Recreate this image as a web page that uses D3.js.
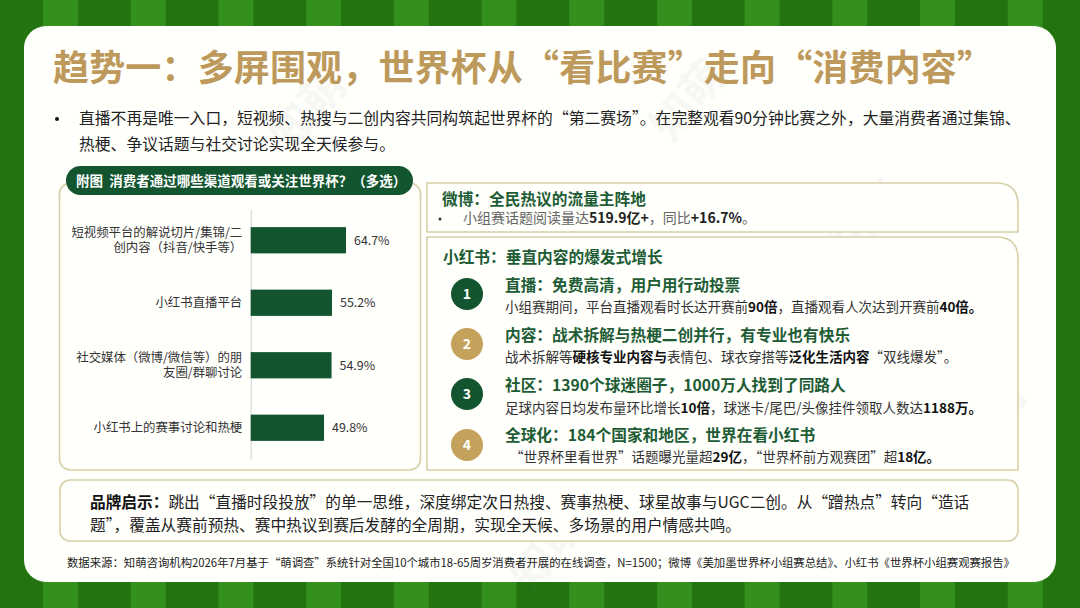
<!DOCTYPE html>
<html><head><meta charset="utf-8">
<script src="https://cdn.jsdelivr.net/npm/d3@7"></script>
<style>html,body{margin:0;padding:0;background:#1f7a1f}svg{display:block}
text{font-family:"Noto Sans CJK SC","Noto Sans",sans-serif}</style></head>
<body><div id="c"></div>
<script>
const categories=[["短视频平台的解说切片/集锦/二","创内容（抖音/快手等）"],["小红书直播平台"],["社交媒体（微博/微信等）的朋","友圈/群聊讨论"],["小红书上的赛事讨论和热梗"]];
const values=[64.7,55.2,54.9,49.8];
const valueLabels=["64.7%","55.2%","54.9%","49.8%"];
const title="趋势一：多屏围观，世界杯从“看比赛”走向“消费内容”";
const introLines=["直播不再是唯一入口，短视频、热搜与二创内容共同构筑起世界杯的“第二赛场”。在完整观看90分钟比赛之外，大量消费者通过集锦、","热梗、争议话题与社交讨论实现全天候参与。"];
const chartTitle="附图  消费者通过哪些渠道观看或关注世界杯？（多选）";
const source="数据来源：知萌咨询机构2026年7月基于“萌调查”系统针对全国10个城市18-65周岁消费者开展的在线调查，N=1500；微博《美加墨世界杯小组赛总结》、小红书《世界杯小组赛观赛报告》";
const weiboHead="微博：全民热议的流量主阵地";
const weiboBody=[["小组赛话题阅读量达",0],["519.9亿+",1],["，同比",0],["+16.7%",1],["。",0]];
const xhsHead="小红书：垂直内容的爆发式增长";
const itemHeads=["直播：免费高清，用户用行动投票","内容：战术拆解与热梗二创并行，有专业也有快乐","社区：1390个球迷圈子，1000万人找到了同路人","全球化：184个国家和地区，世界在看小红书"];
const itemBodies=[
 [["小组赛期间，平台直播观看时长达开赛前",0],["90倍",1],["，直播观看人次达到开赛前",0],["40倍。",1]],
 [["战术拆解等",0],["硬核专业内容与",1],["表情包、球衣穿搭等",0],["泛化生活内容",1],["“双线爆发”。",0]],
 [["足球内容日均发布量环比增长",0],["10倍",1],["，球迷卡/尾巴/头像挂件领取人数达",0],["1188万。",1]],
 [["“世界杯里看世界”话题曝光量超",0],["29亿",1],["，“世界杯前方观赛团”超",0],["18亿。",1]]
];
const brandLines=[[["品牌启示：",1],["跳出“直播时段投放”的单一思维，深度绑定次日热搜、赛事热梗、球星故事与UGC二创。从“蹭热点”转向“造话",0]],[["题”，覆盖从赛前预热、赛中热议到赛后发酵的全周期，实现全天候、多场景的用户情感共鸣。",0]]];

const G="#12552f",GOLD="#bd9a5b",BORDER="#d6d0a8",TXT="#222",PAPER="#fffffc";
const svg=d3.select("#c").append("svg").attr("width",1080).attr("height",608);
// pitch
svg.append("rect").attr("width",1080).attr("height",608).attr("fill","#237311");
svg.selectAll(".s").data(d3.range(43,1080,87.7)).join("rect").attr("x",d=>d).attr("y",0).attr("width",35).attr("height",608).attr("fill","#33901c");
svg.append("rect").attr("x",24).attr("y",26).attr("width",1032).attr("height",556).attr("rx",22).attr("fill",PAPER);
// watermarks
[[320,120],[700,110],[880,230],[320,420],[750,300],[560,560],[170,300],[1000,430]].forEach(p=>
 svg.append("text").attr("transform",`translate(${p[0]},${p[1]}) rotate(-50)`).attr("font-size",44).attr("text-anchor","middle").attr("font-weight",700).attr("fill","#777").attr("opacity",.055).text("知萌"));
function rich(x,y,runs,size,fill,bold){
 const t=svg.append("text").attr("x",x).attr("y",y).attr("font-size",size).attr("fill",fill);
 runs.forEach(r=>t.append("tspan").attr("font-weight",r[1]?700:400).attr("fill",r[1]?(bold||"#111"):fill).text(r[0]));
 return t;
}
svg.append("text").attr("x",53).attr("y",81).attr("font-size",36).attr("font-weight",700).attr("fill",GOLD).text(title).attr("textLength",940).attr("lengthAdjust","spacing");
svg.append("circle").attr("cx",57).attr("cy",119).attr("r",2).attr("fill","#111");
introLines.forEach((l,i)=>svg.append("text").attr("x",79).attr("y",[124,150][i]).attr("font-size",15.8).attr("fill",TXT).text(l));
// cards
function snip(x,y,w,h,r){
 svg.append("path").attr("d",`M${x},${y}H${x+w-r}Q${x+w},${y} ${x+w},${y+r}V${y+h}H${x}Z`).attr("fill",PAPER).attr("stroke",BORDER).attr("stroke-width",1.6);
}
svg.append("rect").attr("x",59.5).attr("y",183).attr("width",361).attr("height",287).attr("rx",11).attr("fill",PAPER).attr("stroke",BORDER).attr("stroke-width",1.6);
svg.append("rect").attr("x",66).attr("y",166).attr("width",347).attr("height",29).attr("rx",14.5).attr("fill",G);
svg.append("text").attr("x",76).attr("y",185.5).attr("font-size",13.5).attr("font-weight",700).attr("fill","#fff").attr("xml:space","preserve").text(chartTitle);
// bar chart
const x=d3.scaleLinear().domain([0,100]).range([250.7,398]);
const y=d3.scaleBand().domain(categories.map(c=>c.join(""))).range([209,459]).paddingInner(.58).paddingOuter(.29);
const ax=svg.append("g").attr("transform",`translate(${x(0)},0)`).call(d3.axisLeft(y).tickSize(0).tickFormat(""));
ax.select(".domain").attr("stroke","#d9d9d9").attr("stroke-width",1.2);
ax.selectAll(".tick").each(function(d,i){
 const lines=categories[i];
 const t=d3.select(this).select("text").attr("x",-8.5).attr("dy",null).attr("font-size",12.4).attr("fill","#333").attr("text-anchor","end");
 t.selectAll("tspan").data(lines).join("tspan").attr("x",-8.5).attr("y",(l,j)=>4.5+(j-(lines.length-1)/2)*15).text(l=>l);
});
const keys=categories.map(c=>c.join(""));
svg.selectAll(".bar").data(values).join("rect").attr("class","bar").attr("x",x(0)).attr("y",(d,i)=>y(keys[i])).attr("width",d=>x(d)-x(0)).attr("height",y.bandwidth()).attr("fill",G);
svg.selectAll(".val").data(values).join("text").attr("class","val").attr("x",d=>x(d)+8).attr("y",(d,i)=>y(keys[i])+y.bandwidth()/2+4.5).attr("font-size",12.4).attr("fill","#333").text((d,i)=>valueLabels[i]);
// right cards
snip(427,183,591,49,22);
snip(427,237,591,233,22);
svg.append("text").attr("x",442).attr("y",205).attr("font-size",15.7).attr("font-weight",700).attr("fill","#1d5c34").text(weiboHead);
svg.append("circle").attr("cx",440).attr("cy",219).attr("r",1.5).attr("fill","#333");
rich(463,223,weiboBody,14,"#666","#222");
svg.append("text").attr("x",443).attr("y",263).attr("font-size",15.7).attr("font-weight",700).attr("fill","#1d5c34").text(xhsHead);
const cy=[294,344,394,445],hy=[291,341,391,441],by=[312,362,413,462],tx=[505,505,505,510];
itemHeads.forEach((h,i)=>{
 svg.append("circle").attr("cx",467).attr("cy",cy[i]).attr("r",16).attr("fill",i%2?"#c4a25c":G);
 svg.append("text").attr("x",467).attr("y",cy[i]+5).attr("text-anchor","middle").attr("font-size",14).attr("font-weight",700).attr("fill","#fff").text(i+1);
 svg.append("text").attr("x",505).attr("y",hy[i]).attr("font-size",15.7).attr("font-weight",700).attr("fill","#1d5c34").text(h);
 rich(tx[i],by[i],itemBodies[i],13.5,"#333");
});
// brand card
svg.append("rect").attr("x",60).attr("y",480).attr("width",958).attr("height",61).attr("rx",10).attr("fill",PAPER).attr("stroke",BORDER).attr("stroke-width",1.6);
brandLines.forEach((l,i)=>rich(90,[508,531][i],l,15.7,"#222"));
svg.append("text").attr("x",67).attr("y",567).attr("font-size",11.4).attr("fill","#222").attr("textLength",948).attr("lengthAdjust","spacing").text(source);
</script></body></html>
